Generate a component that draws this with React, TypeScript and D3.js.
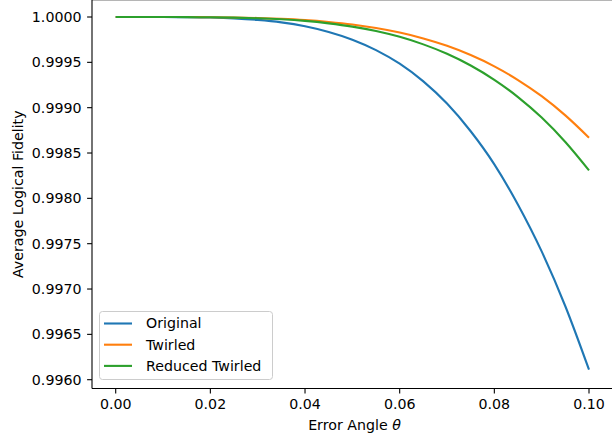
import React from "react";
import * as d3 from "d3";

const thetas = [0, 0.005, 0.01, 0.015, 0.02, 0.025, 0.03, 0.035, 0.04, 0.045, 0.05, 0.055, 0.06, 0.065, 0.07, 0.075, 0.08, 0.085, 0.09, 0.095, 0.1];
const original = [1, 1, 0.9999996, 0.999998, 0.999994, 0.999985, 0.999968, 0.999941, 0.999898, 0.999835, 0.99975, 0.999635, 0.999485, 0.99929, 0.999045, 0.99874, 0.998375, 0.99793, 0.997415, 0.99681, 0.99611];
const twirled = [1, 1, 0.9999999, 0.9999993, 0.999998, 0.999995, 0.999989, 0.99998, 0.999966, 0.999945, 0.999917, 0.999878, 0.999828, 0.999763, 0.999682, 0.99958, 0.999456, 0.999305, 0.999127, 0.998915, 0.998669];
const reducedTwirled = [1, 1, 0.9999998, 0.9999991, 0.999997, 0.9999934, 0.9999863, 0.999975, 0.999957, 0.99993, 0.999894, 0.999845, 0.999781, 0.999698, 0.999594, 0.999465, 0.999307, 0.999117, 0.998891, 0.998622, 0.998309];
const seriesNames = ["Original", "Twirled", "Reduced Twirled"];
const seriesColors = ["#1f77b4", "#ff7f0e", "#2ca02c"];
const xTicks = [0, 0.02, 0.04, 0.06, 0.08, 0.1];
const yTicks = [0.996, 0.9965, 0.997, 0.9975, 0.998, 0.9985, 0.999, 0.9995, 1.0];

const W = 612;
const H = 439;
const FONT = "'DejaVu Sans', sans-serif";
const FS = 14.2;

export default function App() {
  const x = d3.scaleLinear().domain([0, 0.1]).range([115.7, 589]);
  const y = d3.scaleLinear().domain([0.996, 1.0]).range([379.7, 17]);
  const axLeft = 92;
  const axBottom = 388.5;
  const all = [original, twirled, reducedTwirled];
  const line = d3
    .line<number>()
    .x((_, i) => x(thetas[i]))
    .y((d) => y(d))
    .curve(d3.curveMonotoneX);

  return (
    <svg
      width={W}
      height={H}
      style={{ position: "absolute", left: 0, top: 0, background: "#fff" }}
      fontFamily={FONT}
    >
      <rect x={0} y={0} width={W} height={H} fill="#fff" />
      {all.map((s, k) => (
        <path key={k} d={line(s) || ""} fill="none" stroke={seriesColors[k]} strokeWidth={2.1} />
      ))}
      {/* spines */}
      <line x1={axLeft} x2={W} y1={0.5} y2={0.5} stroke="#b5b5b5" strokeWidth={1} />
      <line x1={axLeft} x2={axLeft} y1={0} y2={axBottom} stroke="#000" strokeWidth={1.1} />
      <line x1={axLeft} x2={W} y1={axBottom} y2={axBottom} stroke="#000" strokeWidth={1.1} />
      {/* y ticks */}
      {yTicks.map((t) => (
        <g key={t}>
          <line x1={axLeft - 4.9} x2={axLeft} y1={y(t)} y2={y(t)} stroke="#000" strokeWidth={1.1} />
          <text x={axLeft - 10.5} y={y(t)} dy="0.35em" textAnchor="end" fontSize={FS} fill="#000">
            {t.toFixed(4)}
          </text>
        </g>
      ))}
      {/* x ticks */}
      {xTicks.map((t) => (
        <g key={t}>
          <line x1={x(t)} x2={x(t)} y1={axBottom} y2={axBottom + 4.9} stroke="#000" strokeWidth={1.1} />
          <text x={x(t)} y={axBottom + 20.5} textAnchor="middle" fontSize={FS} fill="#000">
            {t.toFixed(2)}
          </text>
        </g>
      ))}
      <text x={(axLeft + 617) / 2} y={430} textAnchor="middle" fontSize={FS} fill="#000">
        Error Angle <tspan fontStyle="italic">θ</tspan>
      </text>
      <text
        transform={`translate(${23},${(0 + axBottom) / 2}) rotate(-90)`}
        textAnchor="middle"
        fontSize={FS}
        fill="#000"
      >
        Average Logical Fidelity
      </text>
      {/* legend */}
      <rect x={99.5} y={311.5} width={173} height={68} rx={3} fill="#fff" fillOpacity={0.8} stroke="#cccccc" strokeWidth={1} />
      {seriesNames.map((n, k) => (
        <g key={n}>
          <line x1={104} x2={132} y1={323.5 + k * 21.2} y2={323.5 + k * 21.2} stroke={seriesColors[k]} strokeWidth={2.1} />
          <text x={146} y={323.5 + k * 21.2} dy="0.35em" fontSize={FS} fill="#000">
            {n}
          </text>
        </g>
      ))}
    </svg>
  );
}
